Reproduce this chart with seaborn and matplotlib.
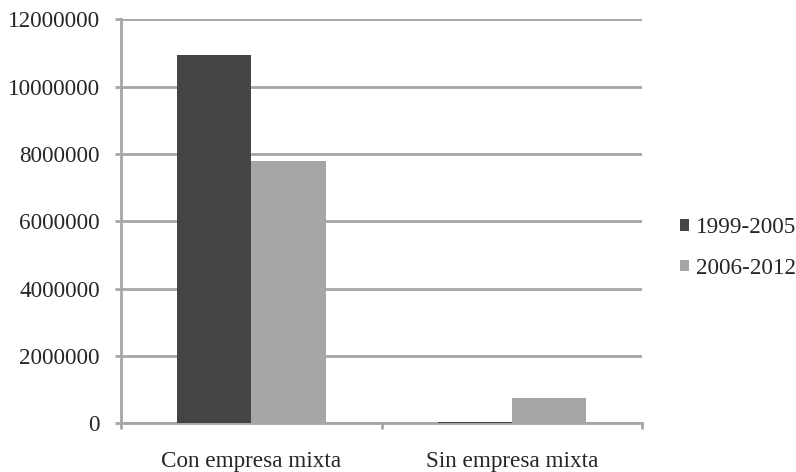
import matplotlib
matplotlib.use("Agg")
import matplotlib.pyplot as plt
import matplotlib.ticker as mticker
import seaborn as sns
import pandas as pd

categories = ["Con empresa mixta", "Sin empresa mixta"]
periods = ["1999-2005", "2006-2012"]
values_1999_2005 = [10950000, 50000]
values_2006_2012 = [7800000, 740000]
yticks = [0, 2000000, 4000000, 6000000, 8000000, 10000000, 12000000]

df = pd.DataFrame({
    "categoria": categories * 2,
    "periodo": [periods[0]] * 2 + [periods[1]] * 2,
    "valor": values_1999_2005 + values_2006_2012,
})

sns.set_style("white")
plt.rcParams["font.family"] = ["Liberation Serif", "DejaVu Serif"]

fig = plt.figure(figsize=(7.96, 4.72), dpi=100)
ax = fig.add_axes([0.152, 0.103, 0.655, 0.856])

grid_color = "#a6a6a6"
sns.barplot(data=df, x="categoria", y="valor", hue="periodo",
            palette=["#444444", "#a6a6a6"], width=0.57, saturation=1,
            ax=ax, zorder=3, edgecolor="none")

ax.set_ylim(0, 12000000)
ax.set_xlim(-0.5, 1.5)
ax.set_yticks(yticks)
ax.yaxis.set_major_formatter(mticker.FuncFormatter(lambda v, p: f"{int(v)}"))
ax.yaxis.grid(True, color=grid_color, linewidth=2, zorder=0)
ax.set_axisbelow(True)

# category boundary ticks on the x axis
ax.set_xticks([-0.5, 0.5, 1.5], minor=True)
ax.set_xticks([0, 1])
ax.tick_params(axis="x", which="major", length=0, pad=20, labelsize=16.7)
ax.tick_params(axis="x", which="minor", length=4.3, width=2, color=grid_color, direction="out", bottom=True)
ax.tick_params(axis="y", length=4.3, width=2, color=grid_color, pad=11, labelsize=16.7, left=True)

for side in ["top", "right"]:
    ax.spines[side].set_visible(False)
for side in ["left", "bottom"]:
    ax.spines[side].set_color(grid_color)
    ax.spines[side].set_linewidth(2)

ax.set_xlabel("")
ax.set_ylabel("")

handles, labels = ax.get_legend_handles_labels()
ax.legend(handles, labels, loc="center left", bbox_to_anchor=(0.828, 0.4746),
          bbox_transform=fig.transFigure, frameon=False, fontsize=16.7,
          handlelength=0.4, handleheight=0.4, handletextpad=0.3, labelspacing=0.84)

fig.savefig("out.png", dpi=100)
